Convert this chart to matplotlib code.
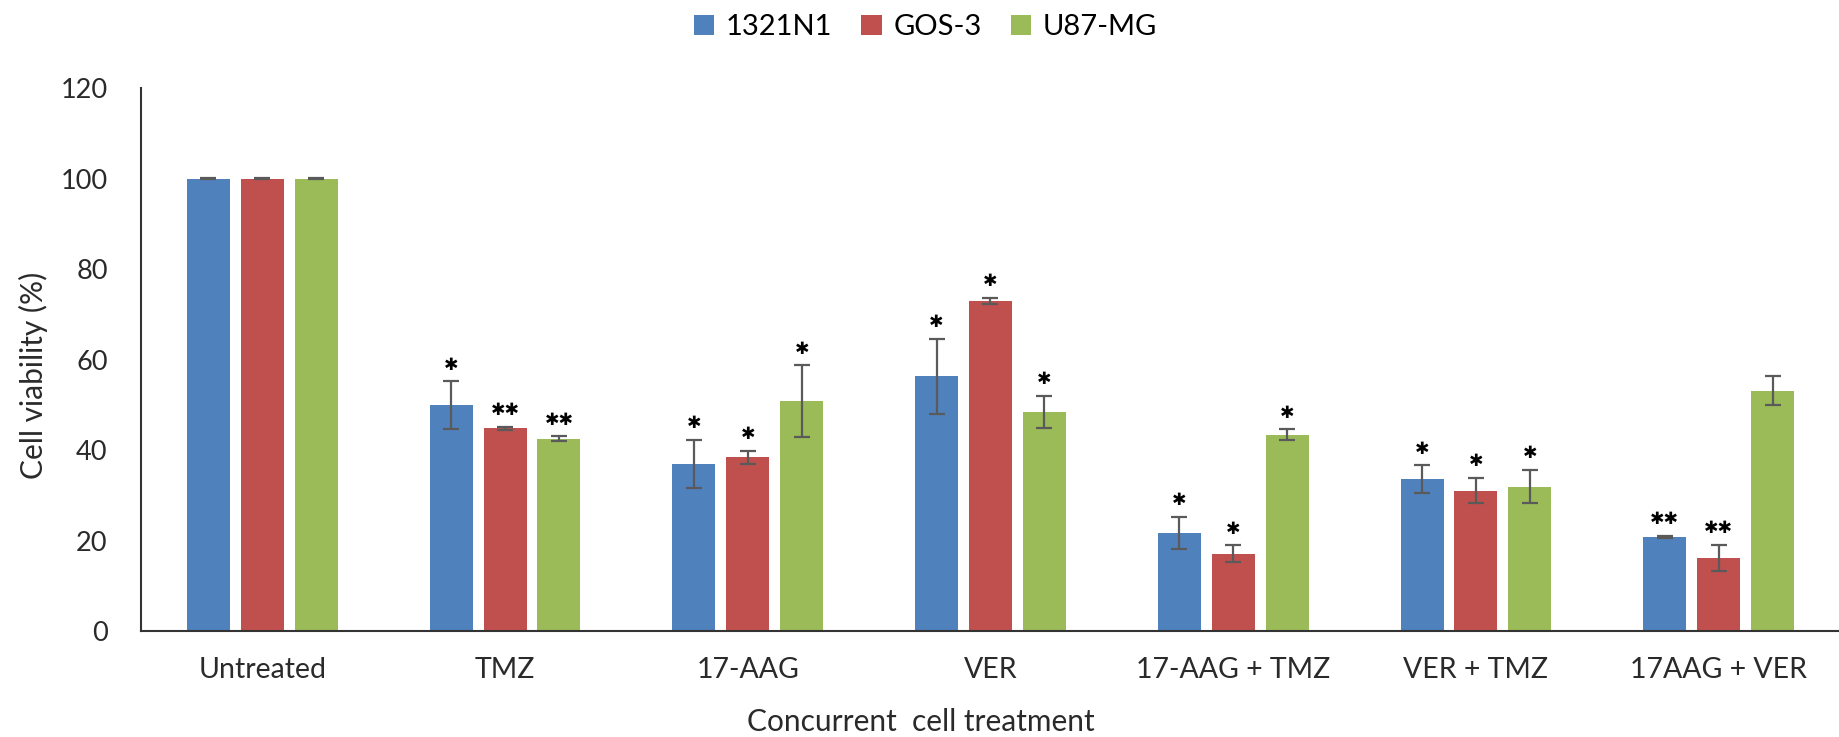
import numpy as np
import matplotlib.pyplot as plt

categories = ["Untreated", "TMZ", "17-AAG", "VER", "17-AAG + TMZ", "VER + TMZ", "17AAG + VER"]
series = ["1321N1", "GOS-3", "U87-MG"]

mean_1321 = [100, 49.9, 36.9, 56.3, 21.7, 33.6, 20.8]
err_1321 = [0.1, 5.3, 5.3, 8.3, 3.5, 3.0, 0.2]
mean_gos = [100, 44.8, 38.4, 73.0, 17.1, 31.0, 16.2]
err_gos = [0.1, 0.3, 1.4, 0.7, 1.8, 2.8, 2.9]
mean_u87 = [100, 42.5, 50.8, 48.4, 43.4, 31.9, 53.1]
err_u87 = [0.1, 0.5, 7.9, 3.6, 1.2, 3.7, 3.2]

# significance marks above each bar
stars_1321 = ["", "*", "*", "*", "*", "*", "**"]
stars_gos = ["", "**", "*", "*", "*", "*", "**"]
stars_u87 = ["", "**", "*", "*", "*", "*", ""]

colors = ["#4F81BD", "#C0504D", "#9BBB59"]

plt.rcParams['font.family'] = ['Lato', 'DejaVu Sans']

fig = plt.figure(figsize=(18.4, 7.37), dpi=100)
ax = fig.add_axes([141 / 1840, 0.1438, 1 - 141 / 1840, 0.7368])

x = np.arange(len(categories))
width = 0.177
step = 0.222

means = [mean_1321, mean_gos, mean_u87]
errs = [err_1321, err_gos, err_u87]
stars = [stars_1321, stars_gos, stars_u87]

for k in range(3):
    xs = x + (k - 1) * step
    ax.bar(xs, means[k], width, color=colors[k], label=series[k], zorder=2)
    ax.errorbar(xs, means[k], yerr=errs[k], fmt='none', ecolor='#5a5a5a',
                elinewidth=1.6, capsize=6, capthick=1.6, zorder=3)
    for xi, m, e, s in zip(xs, means[k], errs[k], stars[k]):
        if s:
            ax.annotate(s.replace('*', '\u2731'), (xi, m + e), xytext=(0, 12),
                        textcoords='offset points', ha='center', va='center',
                        fontsize=12.5, color='black', family='DejaVu Sans')

ax.set_xlim(-0.5, 6.5)
ax.set_ylim(0, 120)
ax.set_yticks(range(0, 121, 20))
ax.set_xticks(x)
ax.set_xticklabels(categories)
ax.tick_params(axis='both', length=0, colors='#2a2a2a')
ax.tick_params(axis='x', pad=19, labelsize=20.5)
ax.tick_params(axis='y', pad=24, labelsize=19.5)

for side in ['top', 'right']:
    ax.spines[side].set_visible(False)
for side in ['left', 'bottom']:
    ax.spines[side].set_color('#333333')
    ax.spines[side].set_linewidth(1.5)

fig.text(33 / 1840, 1 - 375 / 737, "Cell viability (%)", rotation=90, ha='center',
         va='center', fontsize=21.5, color='#2a2a2a')
fig.text(921 / 1840, 1 - 722 / 737, "Concurrent  cell treatment", ha='center',
         va='center', fontsize=21.5, color='#2a2a2a')

fig.legend(loc='upper center', bbox_to_anchor=(0.503, 1.016), ncol=3, frameon=False,
           fontsize=21, handlelength=0.7, handleheight=0.7, handletextpad=0.4,
           columnspacing=1.0)

fig.savefig("out.png", dpi=100)
